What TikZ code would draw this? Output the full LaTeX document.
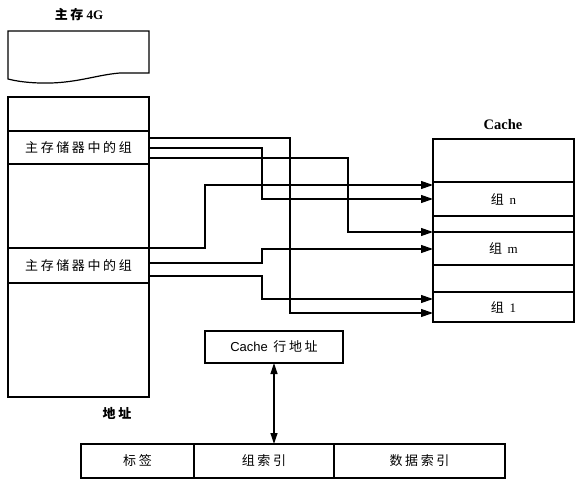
\documentclass[tikz,border=0pt]{standalone}
\usepackage{fontspec}
\setmainfont{Liberation Serif}
\setsansfont{Liberation Sans}
\newfontfamily\cjk[LetterSpace=20]{Noto Sans CJK SC}
\usepackage{tikz}
\usetikzlibrary{positioning}
\usetikzlibrary{arrows.meta}
\tikzset{
	% table cells (memory, cache, address) and the text above them
	cell/.style={rectangle,draw,line width=1.2pt,inner sep=0,outer sep=0,anchor=north west,
		minimum width=141,font=\fontsize{13}{15}\selectfont\cjk},
	title/.style={font=\fontsize{13}{15}\selectfont\bfseries},
	% connectors from memory groups to cache groups
	link/.style={line width=1.2pt,-{Triangle[length=12pt,width=8pt]}},
	both link/.style={line width=1.2pt,{Triangle[length=11pt,width=7pt]}-{Triangle[length=11pt,width=7pt]}}
}

\begin{document}
\begin{tikzpicture}[x=1pt,y=-1pt]
			% macro for the routed connectors: source, bend column, target
			\newcommand{\grouplink}[3]{\draw[link](#1)-|(#2|-#3)--(#3);}
			\useasboundingbox (0,0) rectangle (582,487);

			% main memory, cut off at the top
			\node(memtitle)[title] at (79,15){{\cjk 主存} 4G};
			\draw[line width=1.2pt] (8,31) -- (149,31) -- (149,73) -- (120,73)
				.. controls (95,75) and (75,84) .. (40,83)
				.. controls (22,82.5) and (12,80) .. (8,79) -- cycle;
			\node(m0)[cell,minimum height=34] at (8,97){};
			\node(ga)[cell,minimum height=33,below=0pt of m0]{主存储器中的组};
			\node(m1)[cell,minimum height=84,below=0pt of ga]{};
			\node(gb)[cell,minimum height=35,below=0pt of m1]{主存储器中的组};
			\node(m2)[cell,minimum height=114,below=0pt of gb]{};
			\node(addrtitle)[title] at (117,413){\cjk 地址};

			% cache
			\node(cachetitle)[title,font=\fontsize{14.5}{16}\selectfont\bfseries] at (503,125){Cache};
			\node(c0)[cell,minimum height=43] at (433,139){};
			\node(gn)[cell,minimum height=34,below=0pt of c0]{组 {\rmfamily n}};
			\node(c1)[cell,minimum height=16,below=0pt of gn]{};
			\node(gm)[cell,minimum height=33,below=0pt of c1]{组 {\rmfamily m}};
			\node(c2)[cell,minimum height=27,below=0pt of gm]{};
			\node(g1)[cell,minimum height=30,below=0pt of c2]{组 {\rmfamily 1}};

			% address fields
			\node(row)[cell,minimum width=138,minimum height=32] at (205,331){{\sffamily Cache} 行地址};
			\node(tag)[cell,minimum width=113,minimum height=34] at (81,444){标签};
			\node(gidx)[cell,minimum width=140,minimum height=34,right=0pt of tag]{组索引};
			\node(didx)[cell,minimum width=171,minimum height=34,right=0pt of gidx]{数据索引};
			\draw[both link] (row.south) -- (row.south|-gidx.north);

			% ports on the group rows
			\coordinate(a1) at ([yshift=-7pt]ga.north east);
			\coordinate(a2) at ([yshift=-0.5pt]ga.east);
			\coordinate(a3) at ([yshift=6pt]ga.south east);
			\coordinate(b1) at (gb.north east);
			\coordinate(b2) at ([yshift=2.5pt]gb.east);
			\coordinate(b3) at ([yshift=7pt]gb.south east);
			\coordinate(n1) at ([yshift=-3pt]gn.north west);
			\coordinate(n2) at (gn.west);
			\coordinate(q1) at (gm.north west);
			\coordinate(q2) at ([yshift=-0.5pt]gm.west);
			\coordinate(o1) at ([yshift=-7pt]g1.north west);
			\coordinate(o2) at ([yshift=-6pt]g1.west);
			% bend columns
			\coordinate(k1) at (205,0);
			\coordinate(k2) at (262,0);
			\coordinate(k3) at (290,0);
			\coordinate(k4) at (348,0);

			\grouplink{a1}{k3}{o2}
			\grouplink{a2}{k2}{n2}
			\grouplink{a3}{k4}{q1}
			\grouplink{b1}{k1}{n1}
			\grouplink{b2}{k2}{q2}
			\grouplink{b3}{k2}{o1}
		\end{tikzpicture}
\end{document}
